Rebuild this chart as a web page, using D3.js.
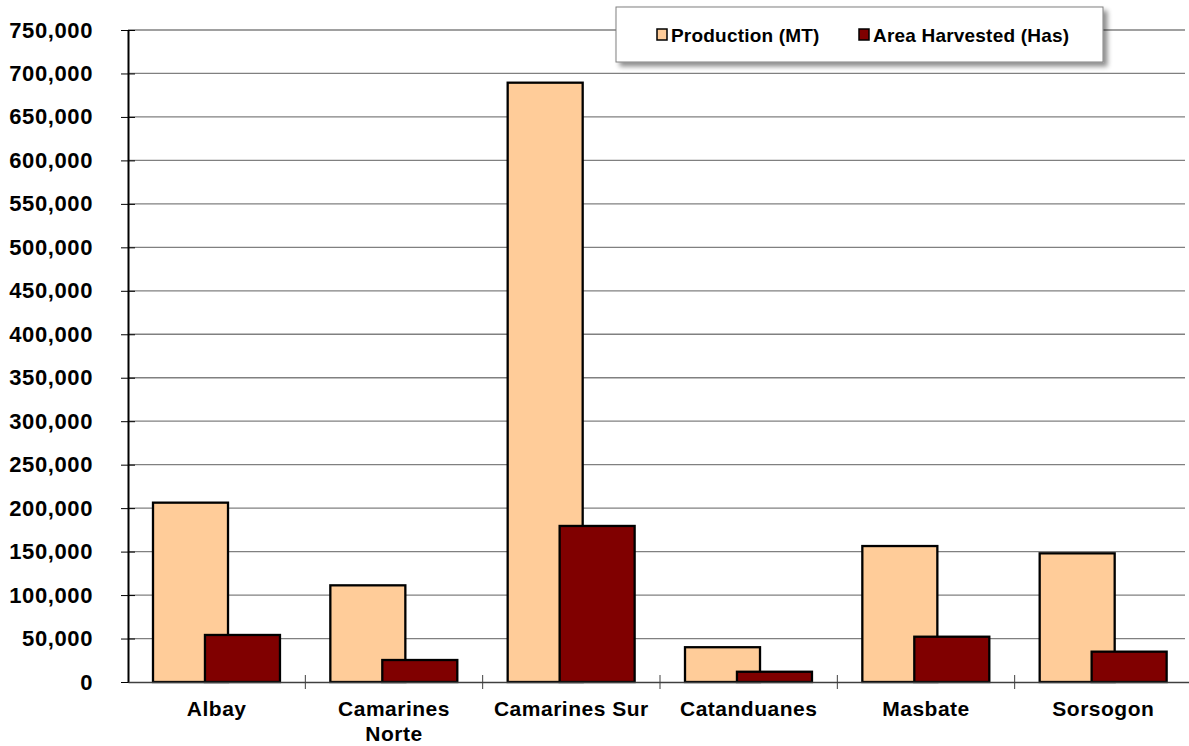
<!DOCTYPE html>
<html>
<head>
<meta charset="utf-8">
<script src="https://cdn.jsdelivr.net/npm/d3@7"></script>
<style>
  body { margin: 0; background: #fff; }
  svg { display: block; font-family: Arial, "Liberation Sans", sans-serif; }
</style>
</head>
<body>
<script>
const provinces = ['Albay', 'Camarines Norte', 'Camarines Sur', 'Catanduanes', 'Masbate', 'Sorsogon'];
const production = [206300, 111200, 689400, 40000, 156400, 148000];
const areaHarvested = [54100, 25300, 179500, 11800, 52100, 34900];
const seriesNames = ['Production (MT)', 'Area Harvested (Has)'];
const yTicks = d3.range(0, 750001, 50000);

const fullWidth = 1189;
const fullHeight = 746;
const margin = { top: 30, left: 128, bottom: 64 };
const plotRight = 1192;
const height = fullHeight - margin.top - margin.bottom;

const colors = ['#FFCC99', '#800000'];

const svg = d3.select('body')
  .append('svg')
  .attr('width', fullWidth)
  .attr('height', fullHeight);

const defs = svg.append('defs');
const shadow = defs.append('filter').attr('id', 'shadow')
  .attr('x', '-10%').attr('y', '-30%').attr('width', '120%').attr('height', '170%');
shadow.append('feGaussianBlur').attr('in', 'SourceAlpha').attr('stdDeviation', 2.5);
shadow.append('feOffset').attr('dx', 4).attr('dy', 4).attr('result', 'off');
shadow.append('feComponentTransfer').append('feFuncA').attr('type', 'linear').attr('slope', 0.45);
const merge = shadow.append('feMerge');
merge.append('feMergeNode');
merge.append('feMergeNode').attr('in', 'SourceGraphic');

// Scales
const x = d3.scaleBand()
  .domain(provinces)
  .range([margin.left, plotRight])
  .padding(0);

const y = d3.scaleLinear()
  .domain([0, 750000])
  .range([margin.top + height, margin.top]);

// offset of each series inside a category band (bars overlap)
const sub = d3.scaleOrdinal()
  .domain(seriesNames)
  .range([0.141, 0.434]);
const barW = x.bandwidth() * 0.423;

// Gridlines
svg.append('g')
  .selectAll('line')
  .data(yTicks.filter(d => d > 0))
  .enter()
  .append('line')
  .attr('x1', margin.left)
  .attr('x2', 1185)
  .attr('y1', d => y(d))
  .attr('y2', d => y(d))
  .style('stroke', '#808080')
  .style('stroke-width', 1.3);

// Bars
const series = [production, areaHarvested];
series.forEach((vals, si) => {
  svg.append('g')
    .selectAll('rect')
    .data(vals)
    .enter()
    .append('rect')
    .attr('x', (d, i) => x(provinces[i]) + x.bandwidth() * sub(seriesNames[si]))
    .attr('y', d => y(d))
    .attr('width', barW)
    .attr('height', d => y(0) - y(d))
    .style('fill', colors[si])
    .style('stroke', '#000')
    .style('stroke-width', 2.3);
});

// Y axis
const yAxis = d3.axisLeft(y)
  .tickValues(yTicks)
  .tickFormat(d3.format(','))
  .tickSizeInner(7)
  .tickSizeOuter(0)
  .tickPadding(28);

const yg = svg.append('g')
  .attr('transform', `translate(${margin.left},0)`)
  .call(yAxis);
yg.select('.domain').style('stroke', '#000').style('stroke-width', 2);
yg.selectAll('.tick line').attr('x2', -7).attr('x1', 7).style('stroke', '#000');
yg.selectAll('.tick text')
  .style('font-size', '22px')
  .style('font-weight', 'bold')
  .style('letter-spacing', '0.6px')
  .attr('fill', '#000');

// X axis
const xAxis = d3.axisBottom(x)
  .tickSize(0)
  .tickSizeOuter(0)
  .tickPadding(0)
  .tickFormat('');

const xg = svg.append('g')
  .attr('transform', `translate(0,${y(0)})`)
  .call(xAxis);
xg.select('.domain').style('stroke', '#404040').style('stroke-width', 1.5);

// category boundary ticks
xg.append('g')
  .selectAll('line')
  .data(provinces.slice(1))
  .enter()
  .append('line')
  .attr('x1', d => x(d))
  .attr('x2', d => x(d))
  .attr('y1', -7)
  .attr('y2', 7)
  .style('stroke', '#404040')
  .style('stroke-width', 1);

// category labels (wrap "Camarines Norte")
const labelLines = {
  'Camarines Norte': ['Camarines', 'Norte'],
};
provinces.forEach(p => {
  const lines = labelLines[p] || [p];
  const t = svg.append('text')
    .attr('x', x(p) + x.bandwidth() / 2)
    .attr('y', 716)
    .attr('text-anchor', 'middle')
    .style('font-size', '21px')
    .style('font-weight', 'bold')
    .style('letter-spacing', '0.5px');
  lines.forEach((l, i) => {
    t.append('tspan')
      .attr('x', x(p) + x.bandwidth() / 2)
      .attr('dy', i === 0 ? 0 : 25)
      .text(l);
  });
});

// Legend
const leg = svg.append('g').attr('transform', 'translate(616,7)');
leg.append('rect')
  .attr('width', 487)
  .attr('height', 55)
  .style('fill', '#fff')
  .style('stroke', '#808080')
  .style('stroke-width', 1)
  .attr('filter', 'url(#shadow)');

const legX = [41, 243];
seriesNames.forEach((name, i) => {
  leg.append('rect')
    .attr('x', legX[i])
    .attr('y', 22)
    .attr('width', 10)
    .attr('height', 11)
    .style('fill', colors[i])
    .style('stroke', '#000')
    .style('stroke-width', 1.5);
  leg.append('text')
    .attr('x', legX[i] + 14)
    .attr('y', 34.5)
    .style('font-size', '19px')
    .style('font-weight', 'bold')
    .style('letter-spacing', '0.2px')
    .text(name);
});
</script>
</body>
</html>
